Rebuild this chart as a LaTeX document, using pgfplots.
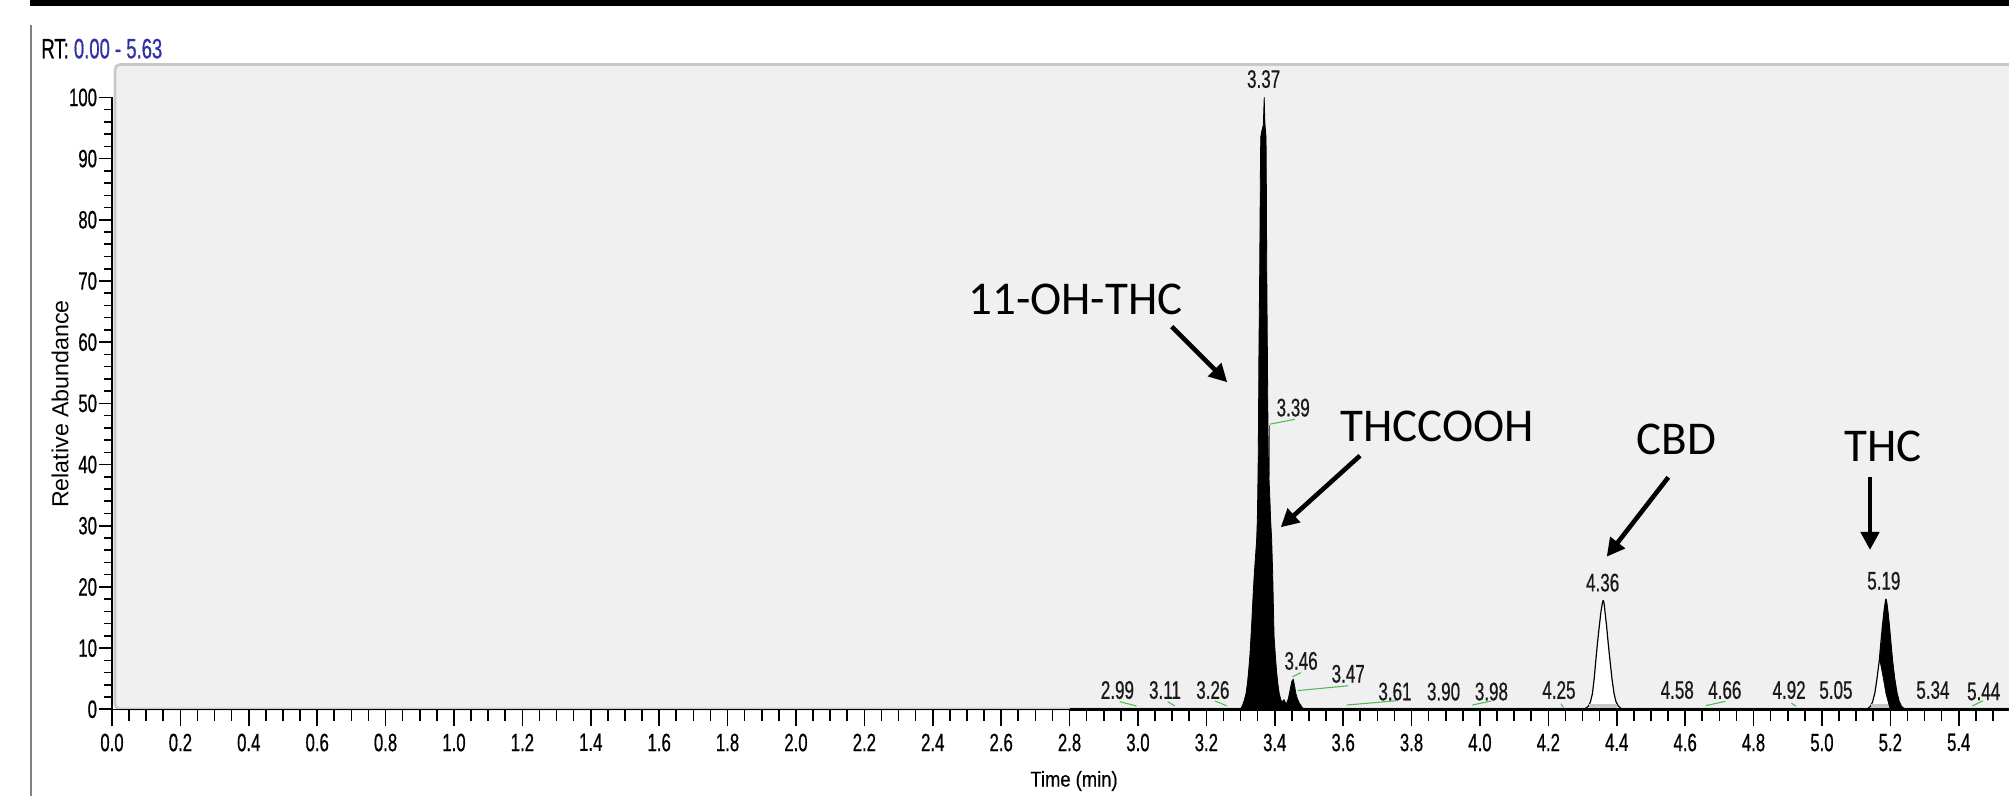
\documentclass[border=0pt]{standalone}
\usepackage{fontspec}
\usepackage{pgfplots}
\pgfplotsset{compat=1.18}
\usetikzlibrary{arrows.meta}
\setmainfont{Liberation Sans}
\newfontfamily\tickfont[FakeStretch=0.67,FakeBold=0.6]{Liberation Sans}
\newfontfamily\rtfont[FakeStretch=0.66,FakeBold=0.6]{Liberation Sans}
\newfontfamily\labfont[FakeStretch=0.86,FakeBold=0.4]{Liberation Sans}
\newfontfamily\annfont{Carlito}
\definecolor{bgc}{HTML}{F0F0F0}
\definecolor{bord}{HTML}{C8C8C8}
\definecolor{grn}{HTML}{55BB55}
\definecolor{rtblue}{HTML}{3030A8}
\tikzset{lbl/.style={inner sep=0pt, font=\tickfont\fontsize{12.7}{14}\selectfont, text=black!90},
  ann/.style={anchor=base west, inner sep=0pt, font=\annfont\fontsize{23.5}{28}\selectfont},
  arr/.style={line width=2.3pt, -{Triangle[length=9pt,width=9pt]}}}
\pgfplotsset{frameaxis/.style={
  at={(56pt,-354.65pt)}, anchor=south west,
  scale only axis, width=948.5pt, height=322.15pt,
  xmin=0, xmax=5.547, ymin=0, ymax=105.3,
  clip=false,
  axis x line*=bottom, axis y line*=left,
  axis line style={draw=none},
  tick align=outside,
  every tick/.style={black, line width=0.8pt},
  /pgf/number format/assume math mode=true,
  ticklabel style={font=\tickfont\fontsize{12.5}{14}\selectfont, inner sep=0pt},
}}
\begin{document}
\begin{tikzpicture}
\useasboundingbox (0,0) rectangle (1004.5pt,-398pt);
\begin{scope}[x=0.5pt,y=-0.5pt]
\fill[white] (0,0) rectangle (2009,796);
\fill[black] (30,0) rectangle (2009,5.7);
\draw[gray, line width=0.75pt] (31,25) -- (31,796);
\draw[bord, fill=bgc, line width=1.3pt, rounded corners=2.5pt] (115,64.5) rectangle (2040,709);
\node[anchor=base west, inner sep=0pt, font=\rtfont\fontsize{14}{16}\selectfont] at (41,58.3) {RT: \textcolor{rtblue}{0.00 - 5.63}};
\node[rotate=90, inner sep=0pt, font=\fontsize{11.6}{13}\selectfont] at (60,404) {Relative Abundance};
\node[inner sep=0pt, font=\labfont\fontsize{10.7}{12}\selectfont] at (1074,781) {Time (min)};
\end{scope}
% y ticks only
\begin{axis}[frameaxis,
  xtick=\empty, minor xtick={},
  major tick length=6.3pt, minor tick length=3.8pt,
  ytick={0,10,...,100},
  minor ytick={0,2,...,100},
  yticklabel style={anchor=east},
  yticklabel shift=1pt,
]
\end{axis}
\begin{axis}[frameaxis,
  ytick=\empty, minor ytick={},
  major tick length=8.5pt, minor tick length=5.8pt,
  xtick={0,0.2,0.4,0.6,0.8,1.0,1.2,1.4,1.6,1.8,2.0,2.2,2.4,2.6,2.8,3.0,3.2,3.4,3.6,3.8,4.0,4.2,4.4,4.6,4.8,5.0,5.2,5.4},
  minor xtick={0,0.05,...,5.55},
  xticklabel style={anchor=north, /pgf/number format/.cd, fixed, fixed zerofill, precision=1},
  xticklabel shift=3.5pt,
]
\draw[black, line width=0.7pt] (axis cs:0,0) -- (axis cs:5.547,0);
\draw[black, line width=0.7pt] (axis cs:0,0) -- (axis cs:0,100);
% main peak (11-OH-THC / THCCOOH) with 3.46
\addplot[black, fill=black, line width=0.4pt, line join=round] coordinates {
(3.300,0) (3.306,0.7) (3.311,1.5) (3.316,2.6) (3.320,4.2) (3.3238,6.4) (3.3275,9.0) (3.3305,11.9)
(3.333,14.5) (3.335,16.8) (3.3375,19.5) (3.340,22.0) (3.347,27.7) (3.349,30.9) (3.3505,36) (3.3518,42)
(3.3528,50) (3.3535,57) (3.3548,65) (3.3560,72) (3.3570,80) (3.3580,88) (3.3590,93.5) (3.362,94.5)
(3.3665,95.5) (3.368,98) (3.3692,100) (3.3702,97.5) (3.3715,95.5) (3.3745,93.5) (3.3755,85)
(3.3765,72) (3.3785,58) (3.3800,47) (3.3815,40) (3.3860,34) (3.388,30.9) (3.391,27.7) (3.394,22)
(3.396,16.8) (3.398,11.9) (3.4015,9.0) (3.405,6.4) (3.409,4.2) (3.413,2.6) (3.418,1.5) (3.4230,1.2)
(3.4270,1.6) (3.4310,1.1) (3.4350,1.0) (3.4400,1.8) (3.4450,3.2) (3.4500,4.6) (3.4541,4.9)
(3.4580,3.8) (3.4620,2.5) (3.4670,1.6) (3.4720,1.0) (3.4790,0.4) (3.4850,0)} \closedcycle;
\addplot[black!65, line width=0.5pt] coordinates {(3.3835,38) (3.3835,46.5)};
% CBD
\addplot[black, line width=0.6pt, fill=white, line join=round] coordinates {
(4.305,0) (4.317,0.5) (4.323,1.2) (4.329,2.6) (4.334,5.0) (4.339,8.1) (4.344,11) (4.349,13.6)
(4.354,16) (4.3585,17.5) (4.3606,17.8) (4.363,17.3) (4.3665,15.5) (4.3703,13.6) (4.375,10.8)
(4.380,8.1) (4.386,5.0) (4.392,2.6) (4.398,1.2) (4.405,0.5) (4.415,0)};
\addplot[draw=none, fill=black!22] coordinates {(4.318,0) (4.318,0.8) (4.402,0.8) (4.402,0)};
% THC
\addplot[black, line width=0.6pt, fill=white, line join=round] coordinates {
(5.132,0) (5.142,0.5) (5.148,1.2) (5.1545,2.6) (5.161,5) (5.168,8.1) (5.1725,11) (5.177,13.6)
(5.1815,16) (5.1855,17.6) (5.187,18.0) (5.1895,17.4) (5.193,15.8) (5.197,13.6) (5.2015,10.8)
(5.2059,8.1) (5.2125,5.0) (5.2195,2.6) (5.226,1.2) (5.232,0.5) (5.242,0)};
\addplot[draw=none, fill=black!22] coordinates {(5.143,0) (5.143,0.8) (5.230,0.8) (5.230,0)};
\addplot[black, fill=black, line width=0.3pt, line join=round] coordinates {
(5.187,18.0) (5.1895,17.4) (5.193,15.8) (5.197,13.6) (5.2015,10.8) (5.2059,8.1) (5.2125,5.0)
(5.2195,2.6) (5.226,1.2) (5.232,0.5) (5.237,0) (5.200,0) (5.197,0.5) (5.187,2.6) (5.178,5.5)
(5.169,8.1) (5.1745,11) (5.178,13.6) (5.1825,16) (5.186,17.6) (5.187,18.0)};
% baseline
\addplot[black, line width=1.35pt] coordinates {(2.8,0) (5.547,0)};
% green leader lines
\draw[grn, line width=0.55pt] (axis cs:2.947,1.24) -- (axis cs:2.996,0.54);
\draw[grn, line width=0.55pt] (axis cs:3.087,1.24) -- (axis cs:3.108,0.54);
\draw[grn, line width=0.55pt] (axis cs:3.225,1.36) -- (axis cs:3.259,0.59);
\draw[grn, line width=0.55pt] (axis cs:3.386,46.6) -- (axis cs:3.459,47.4);
\draw[grn, line width=0.55pt] (axis cs:3.4518,5.3) -- (axis cs:3.476,6.0);
\draw[grn, line width=0.55pt] (axis cs:3.4668,3.05) -- (axis cs:3.6148,3.85);
\draw[grn, line width=0.55pt] (axis cs:3.611,0.7) -- (axis cs:3.754,1.4);
\draw[grn, line width=0.55pt] (axis cs:3.978,0.7) -- (axis cs:4.033,1.36);
\draw[grn, line width=0.55pt] (axis cs:4.237,0.9) -- (axis cs:4.244,0.3);
\draw[grn, line width=0.55pt] (axis cs:4.660,0.6) -- (axis cs:4.718,1.3);
\draw[grn, line width=0.55pt] (axis cs:4.911,1.0) -- (axis cs:4.924,0.5);
\draw[grn, line width=0.55pt] (axis cs:5.440,0.55) -- (axis cs:5.471,1.4);
% peak labels
\node[lbl] at (axis cs:3.3675,103.0) {3.37};
\node[lbl] at (axis cs:3.454,49.3) {3.39};
\node[lbl] at (axis cs:3.477,7.9) {3.46};
\node[lbl] at (axis cs:3.6148,5.8) {3.47};
\node[lbl] at (axis cs:2.940,3.15) {2.99};
\node[lbl] at (axis cs:3.079,3.15) {3.11};
\node[lbl] at (axis cs:3.219,3.15) {3.26};
\node[lbl] at (axis cs:3.7515,2.9) {3.61};
\node[lbl] at (axis cs:3.8936,2.9) {3.90};
\node[lbl] at (axis cs:4.0336,2.9) {3.98};
\node[lbl] at (axis cs:4.231,3.15) {4.25};
\node[lbl] at (axis cs:4.3588,20.7) {4.36};
\node[lbl] at (axis cs:4.577,3.15) {4.58};
\node[lbl] at (axis cs:4.716,3.15) {4.66};
\node[lbl] at (axis cs:4.904,3.15) {4.92};
\node[lbl] at (axis cs:5.041,3.15) {5.05};
\node[lbl] at (axis cs:5.181,21.0) {5.19};
\node[lbl] at (axis cs:5.3246,3.15) {5.34};
\node[lbl] at (axis cs:5.473,2.9) {5.44};
\end{axis}
\begin{scope}[x=0.5pt,y=-0.5pt]
\node[ann] at (968,315) {11-OH-THC};
\node[ann] at (1340,441.7) {THCCOOH};
\node[ann] at (1636,455) {CBD};
\node[ann] at (1844,461.7) {THC};
\draw[arr] (1171.7,326.7) -- (1227.3,382.3);
\draw[arr] (1360,455.7) -- (1280.7,527.3);
\draw[arr] (1668.3,477.3) -- (1606.7,556.7);
\draw[arr] (1870,477.3) -- (1870,550);
\end{scope}
\end{tikzpicture}
\end{document}
